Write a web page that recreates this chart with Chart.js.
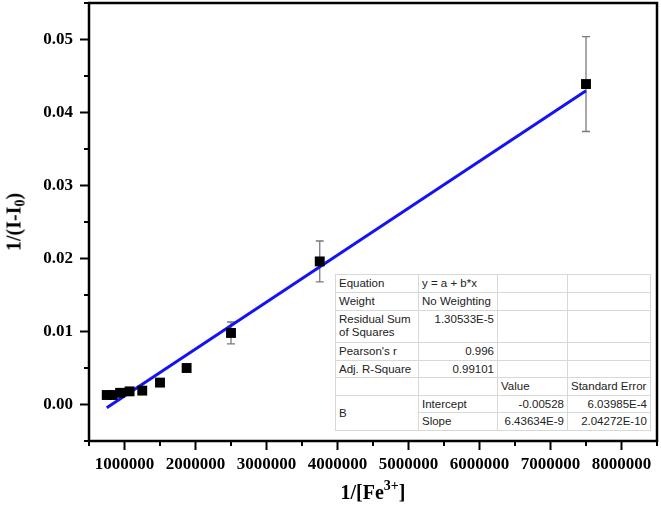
<!DOCTYPE html>
<html><head><meta charset="utf-8">
<script src="https://cdn.jsdelivr.net/npm/chart.js@4"></script>
<style>
html,body{margin:0;padding:0;background:#fff;}
#wrap{position:relative;width:661px;height:514px;overflow:hidden;}
#c{position:absolute;left:0;top:0;}
.ytitle{position:absolute;left:14px;top:222px;transform:translate(-50%,-50%) rotate(-90deg);font:bold 20px "Liberation Serif";white-space:nowrap;color:#000;}
.xtitle{position:absolute;left:373px;top:492px;transform:translate(-50%,-50%);font:bold 20px "Liberation Serif";white-space:nowrap;color:#000;}
.ytitle sub{font-size:14px;vertical-align:-4px;line-height:0;}
.xtitle sup{font-size:14px;vertical-align:9px;line-height:0;}
#tbl{position:absolute;left:335px;top:274px;width:315px;border-collapse:collapse;table-layout:fixed;font:11.5px "Liberation Sans";color:#222;background:#fff;border:1px solid #8a8a8a;}
#tbl td{border:1px solid #d8d8d8;padding:0 3px;line-height:13px;vertical-align:middle;white-space:nowrap;overflow:hidden;}
#tbl td.r{text-align:right;}
#tbl td.top{vertical-align:top;padding-top:2px;}
</style>
</head><body>
<div id="wrap">
<canvas id="c" width="661" height="514"></canvas>
<div class="ytitle">1/(I-I<sub>0</sub>)</div>
<div class="xtitle">1/[Fe<sup>3+</sup>]</div>
<table id="tbl"></table>
</div>
<script>
// ---- data ----
const xValues = [750000, 833333, 937500, 1071429, 1250000, 1500000, 1875000, 2500000, 3750000, 7500000];
const yValues = [0.0013, 0.0013, 0.0016, 0.0018, 0.0019, 0.0030, 0.0050, 0.0098, 0.0196, 0.0439];
const yErrors = [0.0002, 0.0002, 0.0002, 0.0002, 0.0003, 0.0004, 0.0005, 0.0015, 0.0028, 0.0065];
const fitIntercept = -0.00528;
const fitSlope = 6.43634e-9;
const fitRangeX = [750000, 7500000];
const statLabels = ['Equation', 'Weight', 'Residual Sum of Squares', "Pearson's r", 'Adj. R-Square'];
const statValues = ['y = a + b*x', 'No Weighting', '1.30533E-5', '0.996', '0.99101'];
const paramNames = ['Intercept', 'Slope'];
const paramValues = ['-0.00528', '6.43634E-9'];
const paramErrors = ['6.03985E-4', '2.04272E-10'];

// ---- stats table ----
(function(){
  const t = document.getElementById('tbl');
  const colW = [83, 79, 70, 83];
  let html = '<colgroup>' + colW.map(w => '<col style="width:' + w + 'px">').join('') + '</colgroup>';
  const rowH = [18, 18, 32, 18, 17];
  statLabels.forEach((lab, i) => {
    const lbl = lab === 'Residual Sum of Squares' ? 'Residual Sum<br>of Squares' : lab;
    const alignR = i >= 2 ? ' r' : '';
    const topC = i === 2 ? ' top' : '';
    html += '<tr style="height:' + rowH[i] + 'px"><td' + (i===2?' style="vertical-align:top;padding-top:2px"':'') + '>' + lbl + '</td><td class="' + alignR + topC + '">' + statValues[i] + '</td><td></td><td></td></tr>';
  });
  html += '<tr style="height:18px"><td></td><td></td><td>Value</td><td>Standard Error</td></tr>';
  paramNames.forEach((p, i) => {
    html += '<tr style="height:' + (i===0?17:18) + 'px">' + (i === 0 ? '<td rowspan="2">B</td>' : '') +
      '<td>' + p + '</td><td class="r">' + paramValues[i] + '</td><td class="r">' + paramErrors[i] + '</td></tr>';
  });
  t.innerHTML = html;
})();

// ---- plugin: error bars, frame, ticks ----
const framePlugin = {
  id: 'frame',
  beforeDatasetsDraw(chart) {
    const {ctx, scales: {x, y}} = chart;
    ctx.save();
    ctx.strokeStyle = '#7a7a7a';
    ctx.lineWidth = 1.3;
    xValues.forEach((xv, i) => {
      const px = x.getPixelForValue(xv);
      const t = y.getPixelForValue(yValues[i] + yErrors[i]);
      const b = y.getPixelForValue(yValues[i] - yErrors[i]);
      ctx.beginPath();
      ctx.moveTo(px, t); ctx.lineTo(px, b);
      ctx.moveTo(px - 4, t); ctx.lineTo(px + 4, t);
      ctx.moveTo(px - 4, b); ctx.lineTo(px + 4, b);
      ctx.stroke();
    });
    ctx.restore();
  },
  afterDraw(chart) {
    const {ctx, chartArea: a, scales: {x, y}} = chart;
    ctx.save();
    ctx.strokeStyle = '#000';
    ctx.lineWidth = 2.5;
    ctx.strokeRect(a.left, a.top, a.right - a.left, a.bottom - a.top);
    ctx.lineWidth = 2;
    y.ticks.forEach(t => {
      const py = y.getPixelForValue(t.value);
      const len = t.label !== '' ? 9 : 5;
      ctx.beginPath(); ctx.moveTo(a.left - len, py); ctx.lineTo(a.left, py); ctx.stroke();
    });
    x.ticks.forEach(t => {
      const px = x.getPixelForValue(t.value);
      const len = t.label !== '' ? 9 : 5;
      ctx.beginPath(); ctx.moveTo(px, a.bottom); ctx.lineTo(px, a.bottom + len); ctx.stroke();
    });
    ctx.restore();
  }
};

const fitData = fitRangeX.map(xv => ({x: xv, y: fitIntercept + fitSlope * xv}));
const tickFont = {family: '"Liberation Serif"', size: 17, weight: 'bold'};

new Chart(document.getElementById('c'), {
  type: 'scatter',
  data: {
    datasets: [
      {
        label: 'data',
        data: xValues.map((xv, i) => ({x: xv, y: yValues[i]})),
        pointStyle: 'rect',
        pointRadius: 7,
        pointHoverRadius: 7,
        backgroundColor: '#000',
        borderColor: '#000',
        borderWidth: 0
      },
      {
        label: 'fit',
        type: 'line',
        data: fitData,
        showLine: true,
        borderColor: '#1414f0',
        borderWidth: 3,
        pointRadius: 0,
        fill: false
      }
    ]
  },
  options: {
    responsive: false,
    animation: false,
    layout: {autoPadding: false, padding: {top: 3, right: 4, left: 0, bottom: 0}},
    plugins: {legend: {display: false}, tooltip: {enabled: false}},
    scales: {
      x: {
        type: 'linear',
        min: 500000, max: 8500000,
        grid: {display: false, drawTicks: false},
        border: {display: false},
        afterFit(s) { s.height = 73; s.paddingLeft = 0; s.paddingRight = 0; s.paddingTop = 0; s.paddingBottom = 0; },
        ticks: {
          stepSize: 500000,
          autoSkip: false,
          maxRotation: 0,
          padding: 13,
          color: '#000',
          font: tickFont,
          callback: v => (Math.round(v) % 1000000 === 0 ? String(Math.round(v)) : '')
        }
      },
      y: {
        type: 'linear',
        min: -0.005, max: 0.055,
        grid: {display: false, drawTicks: false},
        border: {display: false},
        afterFit(s) { s.width = 89; s.paddingTop = 0; s.paddingBottom = 0; s.paddingLeft = 0; s.paddingRight = 0; },
        ticks: {
          stepSize: 0.005,
          autoSkip: false,
          padding: 16,
          color: '#000',
          font: tickFont,
          callback: v => {
            const k = Math.round(v * 1000);
            return (k % 10 === 0) ? (k / 1000).toFixed(2) : '';
          }
        }
      }
    }
  },
  plugins: [framePlugin]
});
</script>
</body></html>
